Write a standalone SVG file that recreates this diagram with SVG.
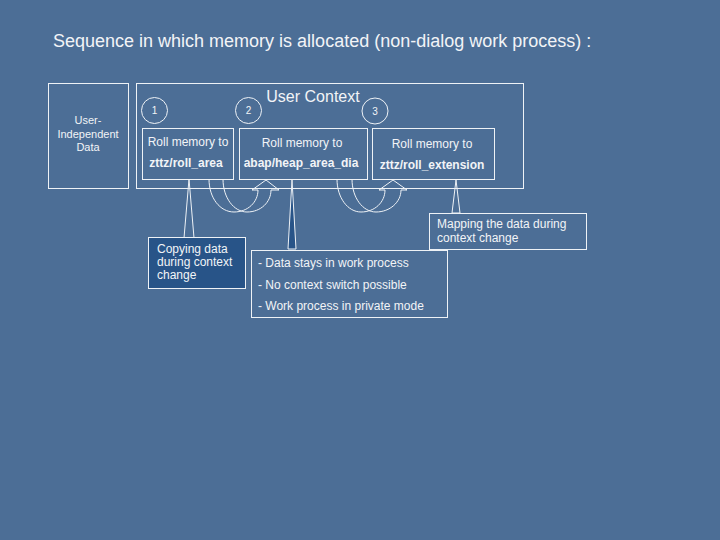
<svg xmlns="http://www.w3.org/2000/svg" width="720" height="540" viewBox="0 0 720 540">
<defs>
<style>
.bg{fill:#4c6e96}
.frame{fill:none;stroke:#eef2f6;stroke-width:1}
.t{font-family:"Liberation Sans",Arial,sans-serif;fill:#f2f4f7}
.b{font-weight:bold}
.c{text-anchor:middle}
.ln{fill:none;stroke:#eef2f6;stroke-width:1}
.dark{fill:#285488;stroke:#eef2f6;stroke-width:1}
</style>
</defs>
<rect class="bg" x="0" y="0" width="720" height="540"/>
<text class="t" x="53" y="47" font-size="18">Sequence in which memory is allocated (non-dialog work process) :</text>

<g id="user-independent">
<rect class="frame" x="48.5" y="83.5" width="80" height="105"/>
<text class="t c" x="88" y="124" font-size="11">User-</text>
<text class="t c" x="88" y="137.5" font-size="11">Independent</text>
<text class="t c" x="88" y="151" font-size="11">Data</text>
</g>

<g id="user-context">
<rect class="frame" x="136.5" y="83.5" width="387" height="105"/>
<text class="t c" x="313" y="102" font-size="16">User Context</text>
</g>

<g id="step1">
<circle class="frame" cx="154.5" cy="110.5" r="13"/>
<text class="t c" x="154.5" y="114" font-size="10">1</text>
</g>
<g id="step2">
<circle class="frame" cx="248.5" cy="110.5" r="13"/>
<text class="t c" x="248.5" y="114" font-size="10">2</text>
</g>
<g id="step3">
<circle class="frame" cx="375" cy="111" r="13"/>
<text class="t c" x="375" y="114.5" font-size="10">3</text>
</g>

<g id="box1">
<rect class="frame" x="142.5" y="128.5" width="91" height="51"/>
<text class="t c" x="188" y="146" font-size="12">Roll memory to</text>
<text class="t b c" x="186" y="167" font-size="12">zttz/roll_area</text>
</g>
<g id="box2">
<rect class="frame" x="239.5" y="128.5" width="128" height="51"/>
<text class="t c" x="302" y="147" font-size="12">Roll memory to</text>
<text class="t b c" x="301" y="167" font-size="12">abap/heap_area_dia</text>
</g>
<g id="box3">
<rect class="frame" x="372.5" y="128.5" width="122" height="51"/>
<text class="t c" x="432" y="148" font-size="12">Roll memory to</text>
<text class="t b c" x="432" y="169" font-size="12">zttz/roll_extension</text>
</g>

<g id="connectors">
<path class="ln" d="M209,179 C209,198 220,212 234,212 C248,212 258,202 258,190"/>
<path class="ln" d="M223,179 C223,198 234,212 247,212 C261,212 271,202 271,190"/>
<polyline class="ln" points="258,190 252,190 266,180 279,190 271,190"/>
<path class="ln" d="M337,179 C337,198 348,212 361,212 C375,212 385,202 385,190"/>
<path class="ln" d="M352,179 C352,198 363,212 376,212 C390,212 401,202 401,190"/>
<polyline class="ln" points="385,190 379,190 393,180 407,190 401,190"/>
<polygon class="ln" points="189,179 184,238 194,238"/>
<polygon class="dark" points="292,180 288,249 296,249"/>
<polygon class="ln" points="456,180 452,213 460,213"/>
</g>

<g id="callout-copying">
<rect class="dark" x="148.5" y="237.5" width="97" height="51"/>
<text class="t" x="157" y="253" font-size="12">Copying data</text>
<text class="t" x="157" y="266" font-size="12">during context</text>
<text class="t" x="157" y="279" font-size="12">change</text>
</g>

<g id="callout-stays">
<rect class="frame" x="251.5" y="250.5" width="196" height="67"/>
<text class="t" x="258" y="267" font-size="12">- Data stays in work process</text>
<text class="t" x="258" y="289" font-size="12">- No context switch possible</text>
<text class="t" x="258" y="310" font-size="12">- Work process in private mode</text>
</g>

<g id="callout-mapping">
<rect class="frame" x="429.5" y="213.5" width="157" height="36"/>
<text class="t" x="437" y="228" font-size="12">Mapping the data during</text>
<text class="t" x="437" y="242" font-size="12">context change</text>
</g>
</svg>
